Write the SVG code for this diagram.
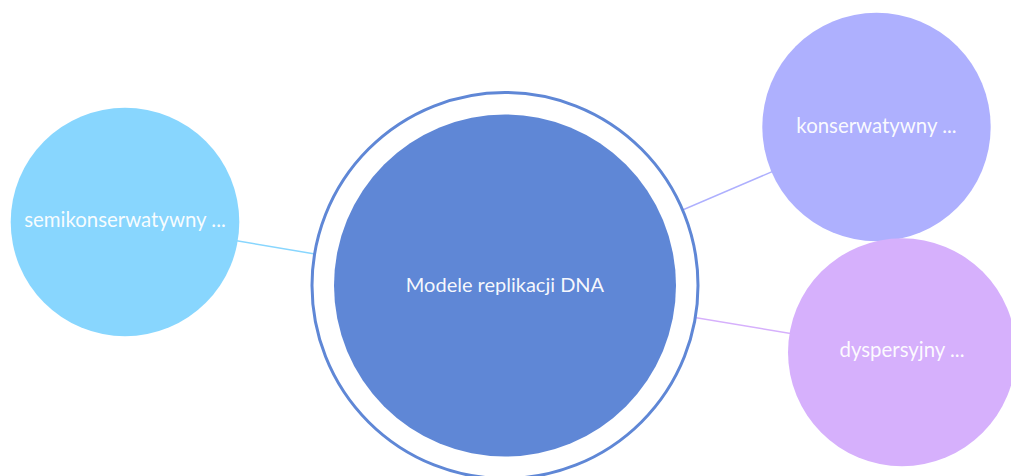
<svg xmlns="http://www.w3.org/2000/svg" width="1011" height="476" viewBox="0 0 1011 476">
  <style>
    .edge { fill: none; stroke-width: 1.5; }
    .label { font-family: Lato, "Open Sans", "Liberation Sans", sans-serif; font-size: 20.4px; fill: #ffffff; fill-opacity: 0.95; text-anchor: middle; }
    .root-label { font-size: 20px; }
  </style>
  <rect width="1011" height="476" fill="#ffffff"/>
  <!-- connectors run centre to centre, beneath the nodes -->
  <g id="connectors">
    <line class="edge" x1="125" y1="222" x2="505" y2="286" stroke="#88d6fe"/>
    <line class="edge" x1="876.5" y1="127" x2="505" y2="286" stroke="#aeb0fe"/>
    <line class="edge" x1="902" y1="352" x2="505" y2="286" stroke="#d6b0fc"/>
  </g>
  <g id="node-root">
    <circle cx="505" cy="285.5" r="193" fill="#ffffff" stroke="#5f87d6" stroke-width="3"/>
    <circle cx="505" cy="285.5" r="171" fill="#5f87d6"/>
    <text class="label root-label" x="505" y="291.5">Modele replikacji DNA</text>
  </g>
  <g id="node-semikonserwatywny">
    <circle cx="125" cy="222" r="114.3" fill="#88d6fe"/>
    <text class="label" x="125" y="227">semikonserwatywny ...</text>
  </g>
  <g id="node-konserwatywny">
    <circle cx="876.5" cy="127" r="114.2" fill="#aeb0fe"/>
    <text class="label" x="876.5" y="133">konserwatywny ...</text>
  </g>
  <g id="node-dyspersyjny">
    <circle cx="902" cy="352.2" r="114" fill="#d6b0fc"/>
    <text class="label" x="902" y="357">dyspersyjny ...</text>
  </g>
</svg>
